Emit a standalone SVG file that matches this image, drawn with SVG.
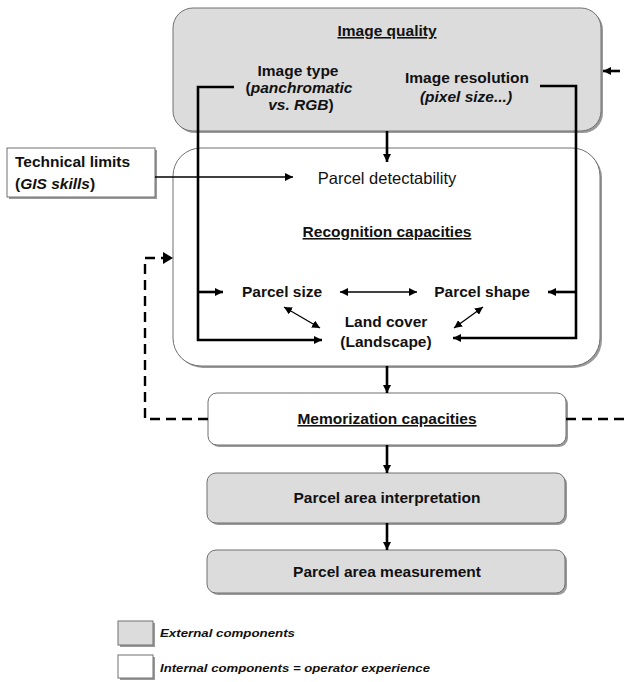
<svg xmlns="http://www.w3.org/2000/svg" width="626" height="682" viewBox="0 0 626 682">
<style>
text{font-family:"Liberation Sans",Arial,sans-serif;fill:#111;}
.b{font-weight:bold;font-size:15.5px;}
.n{font-size:16.5px;}
.i{font-style:italic;}
.u{text-decoration:underline;}
.ext{fill:#dcdcdc;stroke:#707070;stroke-width:1;}
.int{fill:#fff;stroke:#707070;stroke-width:1;}
.sh{fill:#9a9a9a;}
.thick{fill:none;stroke:#000;stroke-width:2.6;}
.thin{fill:none;stroke:#000;stroke-width:1.3;}
.dash{fill:none;stroke:#000;stroke-width:2.4;stroke-dasharray:10,6;}
.lg{font-size:11px;font-weight:bold;font-style:italic;}
</style>
<defs>
<marker id="ah" viewBox="0 0 10 10" refX="10" refY="5" markerWidth="8" markerHeight="8" markerUnits="userSpaceOnUse" orient="auto">
<path d="M0,0 L10,5 L0,10 z" fill="#000"/>
</marker>
<marker id="ahs" viewBox="0 0 10 10" refX="0" refY="5" markerWidth="8" markerHeight="8" markerUnits="userSpaceOnUse" orient="auto">
<path d="M10,0 L0,5 L10,10 z" fill="#000"/>
</marker>
</defs>

<g id="image-quality">
<rect class="sh" x="175" y="10" width="428" height="123" rx="20"/>
<rect class="ext" x="173" y="8" width="428" height="123" rx="20"/>
<text class="b u" x="387" y="36" text-anchor="middle">Image quality</text>
<text class="b" x="298" y="76" text-anchor="middle">Image type</text>
<text class="b" x="299" y="93" text-anchor="middle">(<tspan class="i">panchromatic</tspan></text>
<text class="b" x="301" y="110" text-anchor="middle"><tspan class="i">vs. RGB</tspan>)</text>
<text class="b" x="467" y="83" text-anchor="middle">Image resolution</text>
<text class="b i" x="466" y="102" text-anchor="middle">(pixel size...)</text>
</g>

<g id="recognition">
<rect class="sh" x="175" y="150" width="427" height="218" rx="28"/>
<rect class="int" x="173" y="148" width="427" height="218" rx="28"/>
<text class="n" x="387" y="184" text-anchor="middle">Parcel detectability</text>
<text class="b u" x="387" y="237" text-anchor="middle">Recognition capacities</text>
<text class="b" x="282" y="297" text-anchor="middle">Parcel size</text>
<text class="b" x="482" y="297" text-anchor="middle">Parcel shape</text>
<text class="b" x="386" y="327" text-anchor="middle">Land cover</text>
<text class="b" x="386" y="347" text-anchor="middle">(Landscape)</text>
</g>

<g id="technical-limits">
<rect class="sh" x="9" y="150" width="148" height="49"/>
<rect class="int" x="7" y="148" width="148" height="49"/>
<text class="b" x="15" y="167">Technical limits</text>
<text class="b" x="15" y="189">(<tspan class="i">GIS skills</tspan>)</text>
</g>

<g id="memorization">
<rect class="sh" x="210" y="395" width="358" height="52" rx="9"/>
<rect class="int" x="208" y="393" width="358" height="52" rx="9"/>
<text class="b u" x="387" y="424" text-anchor="middle">Memorization capacities</text>
</g>

<g id="interpretation">
<rect class="sh" x="209" y="475" width="358" height="50" rx="9"/>
<rect class="ext" x="207" y="473" width="358" height="50" rx="9"/>
<text class="b" x="387" y="503" text-anchor="middle">Parcel area interpretation</text>
</g>

<g id="measurement">
<rect class="sh" x="209" y="552" width="358" height="43" rx="9"/>
<rect class="ext" x="207" y="550" width="358" height="43" rx="9"/>
<text class="b" x="387" y="577" text-anchor="middle">Parcel area measurement</text>
</g>

<g id="connectors">
<path class="thick" d="M234,87 H198 V340 H322" marker-end="url(#ah)"/>
<path class="thick" d="M198,292 H223" marker-end="url(#ah)"/>
<path class="thick" d="M540,86 H576 V338 H453" marker-end="url(#ah)"/>
<path class="thick" d="M576,292 H548" marker-end="url(#ah)"/>
<path class="thick" d="M620,71 H603" marker-end="url(#ah)"/>
<path class="thick" d="M387,131 V162" marker-end="url(#ah)"/>
<path class="thin" d="M155,177 H293" marker-end="url(#ah)"/>
<path class="thin" d="M340,292 H417" marker-start="url(#ahs)" marker-end="url(#ah)"/>
<path class="thin" d="M284,307 L320,328" marker-start="url(#ahs)" marker-end="url(#ah)"/>
<path class="thin" d="M483,307 L454,328" marker-start="url(#ahs)" marker-end="url(#ah)"/>
<path class="thick" d="M387,366 V393" marker-end="url(#ah)"/>
<path class="thick" d="M387,445 V473" marker-end="url(#ah)"/>
<path class="thick" d="M387,523 V550" marker-end="url(#ah)"/>
<path class="dash" d="M208,419 H145 V258 H163"/>
<path d="M163,252 L173,258 L163,264 z" fill="#000"/>
<path class="dash" d="M566,419 H626"/>
</g>

<g id="legend">
<rect class="sh" x="120" y="623" width="35" height="24"/>
<rect class="ext" x="118" y="621" width="35" height="24"/>
<text class="lg" x="160" y="637" textLength="135" lengthAdjust="spacingAndGlyphs">External components</text>
<rect class="sh" x="120" y="657" width="35" height="23"/>
<rect class="int" x="118" y="655" width="35" height="23"/>
<text class="lg" x="160" y="672" textLength="270" lengthAdjust="spacingAndGlyphs">Internal components = operator experience</text>
</g>
</svg>
